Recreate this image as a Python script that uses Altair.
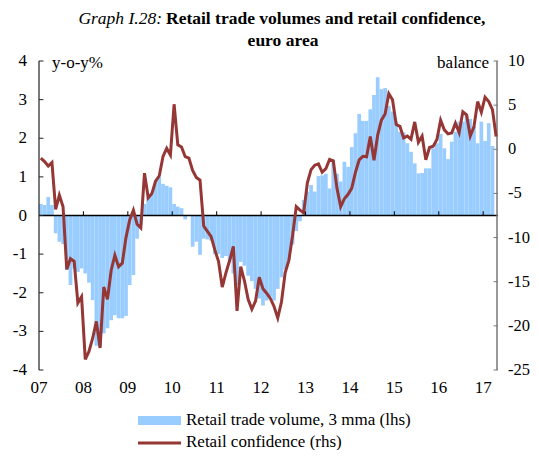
import altair as alt
import pandas as pd

FONT = "Liberation Serif"
BLUE = "#99ccff"
RED = "#953735"
W, H = 459, 309

years = ["07", "08", "09", "10", "11", "12", "13", "14", "15", "16", "17"]

# Retail trade volume, 3 mma, y-o-y % (monthly from Jan 2007)
volume = [
    0.30, 0.27, 0.48, 0.27, -0.46, -0.68, -0.74, -1.41, -1.80, -1.37, -1.46, -1.37,
    -1.50, -1.74, -2.19, -3.37, -3.40, -3.05, -2.92, -2.71, -2.58, -2.66, -2.66, -2.60,
    -1.80, -1.54, -0.60, -0.25, 0.30, 0.47, 0.55, 0.92, 1.00, 0.82, 0.77, 0.73,
    0.30, 0.23, 0.19, -0.10, 0.02, -0.81, -0.68, -1.02, -0.60, -0.62, -0.65, -1.00,
    -1.00, -1.10, -1.05, -1.15, -1.50, -1.80, -1.20, -1.30, -1.56, -1.70, -1.90, -2.15,
    -2.33, -2.20, -2.10, -2.20, -1.90, -1.60, -1.40, -1.15, -0.75, -0.40, -0.15, 0.40,
    0.62, 0.79, 0.62, 1.02, 1.04, 1.08, 0.70, 1.44, 1.08, 0.88, 1.39, 1.26,
    1.77, 2.13, 2.63, 2.45, 2.45, 2.75, 3.12, 3.58, 3.27, 3.30, 2.84, 2.69,
    2.43, 2.17, 2.15, 1.87, 1.65, 1.35, 1.09, 1.10, 1.22, 1.22, 1.74, 1.87,
    2.11, 1.74, 1.46, 1.91, 2.17, 2.43, 2.43, 2.60, 2.50, 2.30, 1.87, 2.43,
    1.93, 2.39, 1.80,
]

# Retail confidence, balance (monthly from Jan 2007)
confidence = [
    -1.0, -1.4, -1.9, -1.5, -6.8, -5.2, -6.5, -13.6, -12.4, -12.7, -17.4, -16.7,
    -23.8, -22.9, -21.4, -19.5, -22.5, -15.6, -17.0, -13.7, -12.0, -13.3, -12.9, -10.0,
    -8.0, -6.9, -8.5, -8.9, -2.7, -5.5, -5.0, -3.6, -3.0, -0.8, 0.1, -0.65,
    5.1, 0.5, 0.25, -0.84, -1.0, -2.4, -3.2, -3.5, -8.7, -9.3, -9.9, -11.4,
    -12.7, -15.6, -14.0, -12.6, -11.0, -18.3, -13.3, -14.9, -17.0, -18.1, -17.2, -14.5,
    -15.8, -16.3, -16.9, -17.8, -19.1, -17.3, -14.0, -12.6, -9.8, -6.5, -6.9, -7.2,
    -3.8, -2.3, -1.8, -1.65, -2.6, -2.2, -1.15, -1.3, -4.4, -6.5, -5.6, -5.1,
    -4.4, -2.6, -1.2, -0.8, -0.85, 1.45, -1.25, 1.6, 3.3, 4.0, 6.3, 5.6,
    2.8, 2.6, 1.3, 1.5, 1.15, 3.1, 0.8, 1.5, -1.2, 0.2, 0.35, 1.1,
    3.3, 2.2, 1.75, 1.85, 2.95, 1.9, 4.25, 3.9, 1.5, 2.55, 5.4, 4.2,
    5.9, 5.4, 4.5, 1.45,
]

left_ticks = [4, 3, 2, 1, 0, -1, -2, -3, -4]
right_ticks = [10, 5, 0, -5, -10, -15, -20, -25]

N_MONTHS = 124
year_pos = [12 * i for i in range(len(years))]

vol_df = pd.DataFrame({"m": list(range(len(volume))), "v": volume})
vol_df["m2"] = vol_df["m"] + 1
conf_df = pd.DataFrame({"m": [i + 0.5 for i in range(len(confidence))], "c": confidence})

X = alt.Scale(domain=[0, N_MONTHS], nice=False, zero=False)
YL = alt.Scale(domain=[-4, 4], nice=False)
YR = alt.Scale(domain=[-25, 10], nice=False)

blank = pd.DataFrame({"a": [0]})


def txt(text, x, y, align="left", size=17, weight="normal", style="normal"):
    return alt.Chart(blank).mark_text(text=text, align=align, baseline="middle", font=FONT,
                                      fontSize=size, fontWeight=weight, fontStyle=style,
                                      color="black").encode(x=alt.value(x), y=alt.value(y))


# ---- left-scale group ----
bars = alt.Chart(vol_df).mark_rect(color=BLUE).encode(
    x=alt.X("m:Q", scale=X, axis=None),
    x2="m2:Q",
    y=alt.Y("v:Q", scale=YL, axis=None),
    y2=alt.datum(0),
)

zero_df = pd.DataFrame({"x": [0], "x2": [N_MONTHS], "y": [0]})
zero_line = alt.Chart(zero_df).mark_rule(color="black", strokeWidth=1.5).encode(
    x=alt.X("x:Q", scale=X, axis=None), x2="x2:Q", y=alt.Y("y:Q", scale=YL, axis=None)
)

yt_df = pd.DataFrame({"x": year_pos[1:], "y": [0] * (len(year_pos) - 1),
                      "y2": [0.11] * (len(year_pos) - 1)})
year_ticks = alt.Chart(yt_df).mark_rule(color="black", strokeWidth=1).encode(
    x=alt.X("x:Q", scale=X, axis=None), y=alt.Y("y:Q", scale=YL, axis=None), y2="y2:Q"
)

xl_df = pd.DataFrame({"x": year_pos, "label": years})
x_labels = alt.Chart(xl_df).mark_text(font=FONT, fontSize=17, color="black", baseline="middle",
                                      align="center").encode(
    x=alt.X("x:Q", scale=X, axis=None), y=alt.value(H + 18), text="label:N"
)

lt_df = pd.DataFrame({"y": left_ticks, "x": [0] * len(left_ticks), "x2": [1.2] * len(left_ticks),
                      "label": [str(v) for v in left_ticks]})
left_tick_marks = alt.Chart(lt_df).mark_rule(color="#222222", strokeWidth=1).encode(
    x=alt.X("x:Q", scale=X, axis=None), x2="x2:Q", y=alt.Y("y:Q", scale=YL, axis=None)
)
left_labels = alt.Chart(lt_df).mark_text(font=FONT, fontSize=17, color="black", align="right",
                                         baseline="middle").encode(
    x=alt.value(-12), y=alt.Y("y:Q", scale=YL, axis=None), text="label:N"
)
left_domain = alt.Chart(blank).mark_rule(color="#222222", strokeWidth=1.2).encode(
    x=alt.value(0), y=alt.value(0), y2=alt.value(H))

left = alt.layer(
    bars, zero_line, year_ticks, left_tick_marks, left_domain, left_labels, x_labels,
    txt("y-o-y%", 13, 2),
    txt("Graph I.28:", 123, -42, align="right", size=17.5, style="italic"),
    txt("Retail trade volumes and retail confidence,", 127, -42, size=17.5, weight="bold"),
    txt("euro area", 244, -20, align="center", size=17.5, weight="bold"),
    alt.Chart(blank).mark_rect(color=BLUE).encode(
        x=alt.value(99), x2=alt.value(142), y=alt.value(355), y2=alt.value(364)),
    txt("Retail trade volume, 3 mma (lhs)", 147, 359),
    alt.Chart(blank).mark_rule(color=RED, strokeWidth=3).encode(
        x=alt.value(99), x2=alt.value(142), y=alt.value(382)),
    txt("Retail confidence (rhs)", 147, 381),
)

# ---- right-scale group ----
line = alt.Chart(conf_df).mark_line(color=RED, strokeWidth=3).encode(
    x=alt.X("m:Q", scale=X, axis=None),
    y=alt.Y("c:Q", scale=YR, axis=None),
)

rt_df = pd.DataFrame({"y": right_ticks, "x": [N_MONTHS - 1.2] * len(right_ticks),
                      "x2": [N_MONTHS] * len(right_ticks),
                      "label": [str(v) for v in right_ticks]})
right_tick_marks = alt.Chart(rt_df).mark_rule(color="#777777", strokeWidth=1).encode(
    x=alt.X("x:Q", scale=X, axis=None), x2="x2:Q", y=alt.Y("y:Q", scale=YR, axis=None)
)
right_labels = alt.Chart(rt_df).mark_text(font=FONT, fontSize=16.5, color="black", align="left",
                                          baseline="middle").encode(
    x=alt.value(W + 10), y=alt.Y("y:Q", scale=YR, axis=None), text="label:N"
)
right_domain = alt.Chart(blank).mark_rule(color="#777777", strokeWidth=1.5).encode(
    x=alt.value(W - 1), y=alt.value(0), y2=alt.value(H))

right = alt.layer(right_tick_marks, right_domain, right_labels, line,
                  txt("balance", W - 9, 2, align="right"))

chart = alt.layer(left, right).resolve_scale(y="independent").properties(
    width=W, height=H,
    autosize=alt.AutoSizeParams(type="none"),
    padding={"left": 31, "top": 53, "right": 33, "bottom": 80},
).configure_view(stroke=None)

chart.save("out.html", embed_options={"renderer": "svg", "actions": False})
